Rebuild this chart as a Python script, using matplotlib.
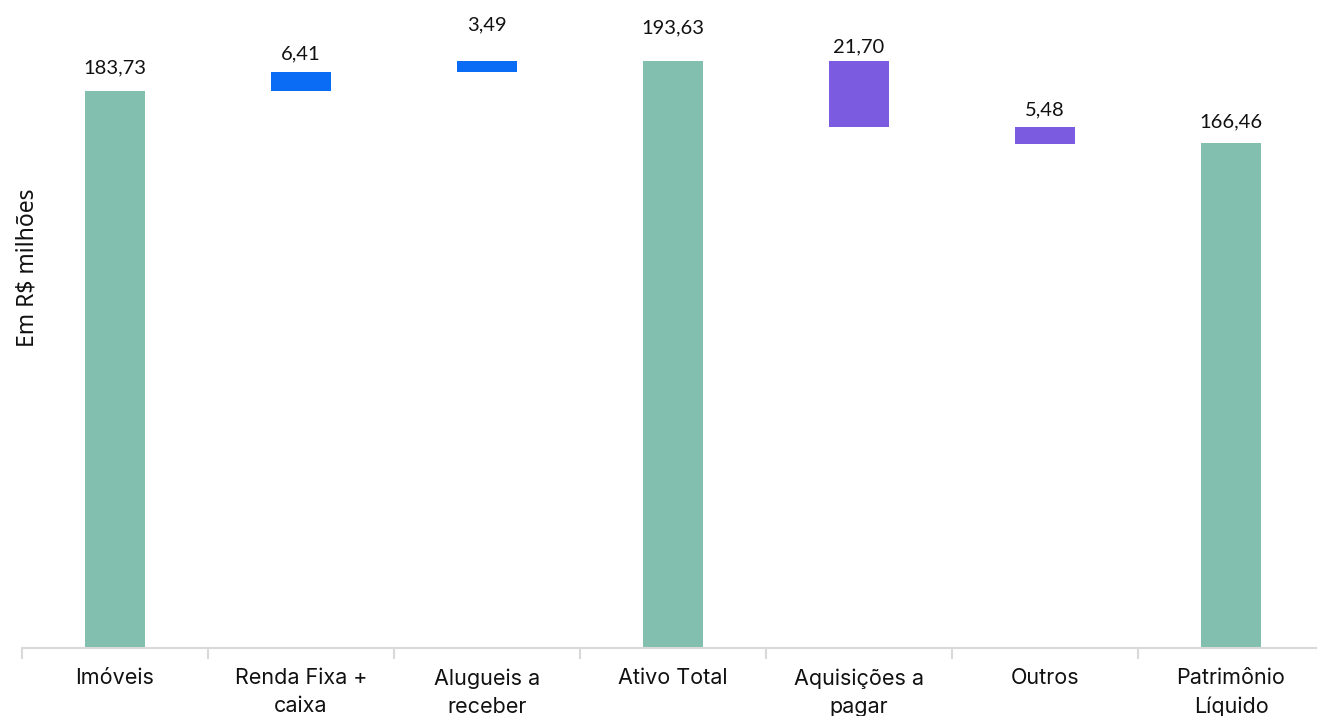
import numpy as np
import matplotlib
matplotlib.use("Agg")
import matplotlib.pyplot as plt

categories = ["Imóveis", "Renda Fixa +\ncaixa", "Alugueis a\nreceber", "Ativo Total",
              "Aquisições a\npagar", "Outros", "Patrimônio\nLíquido"]
values = [183.73, 6.41, 3.49, 193.63, -21.70, -5.48, 166.46]
kinds = ["total", "up", "up", "total", "down", "down", "total"]
labels = ["183,73", "6,41", "3,49", "193,63", "21,70", "5,48", "166,46"]

colors = {"total": "#82BFAE", "up": "#0A6CF5", "down": "#7B5BE0"}
# gap (px) between bar top and label baseline, as placed in the original
label_gap = [18, 12, 31, 28, 9, 12, 16]

# waterfall bottoms / heights
bottoms = []
heights = []
running = 0.0
for v, k in zip(values, kinds):
    if k == "total":
        bottoms.append(0.0)
        heights.append(v)
        running = v
    elif k == "up":
        bottoms.append(running)
        heights.append(v)
        running += v
    else:
        running += v
        bottoms.append(running)
        heights.append(-v)

fig = plt.figure(figsize=(13.17, 7.16), dpi=100)
ax = fig.add_axes([22 / 1317, 68 / 716, 1302 / 1317, 648 / 716])

x = np.arange(len(categories))
ax.bar(x, heights, bottom=bottoms, width=0.32,
       color=[colors[k] for k in kinds], zorder=2)

for xi, b, h, lab, g in zip(x, bottoms, heights, labels, label_gap):
    ax.annotate(lab, (xi, b + h), xytext=(0, g * 0.72), textcoords="offset points",
                ha="center", va="baseline", fontsize=14.5, family="Lato",
                color="#111111")

ax.set_xlim(-0.5, len(categories) - 0.5)
ax.set_ylim(0, 213.8)

for side in ["top", "right", "left"]:
    ax.spines[side].set_visible(False)
ax.spines["bottom"].set_color("#D9D9D9")
ax.spines["bottom"].set_linewidth(1.5)

ax.set_yticks([])
ax.set_xticks(x)
ax.set_xticklabels(categories, fontsize=15.5, family="Inter",
                   color="#111111", linespacing=1.5)
ax.tick_params(axis="x", which="major", length=0, pad=14.5)
ax.set_xticks(np.arange(-0.5, len(categories)), minor=True)
ax.tick_params(axis="x", which="minor", length=8, width=1.5, color="#D9D9D9")

fig.text(28 / 1317, 1 - 268 / 716, "Em R$ milhões", rotation=90,
         ha="center", va="center", fontsize=16.5, family="Noto Sans",
         color="#111111")

fig.savefig("out.png", dpi=100)
